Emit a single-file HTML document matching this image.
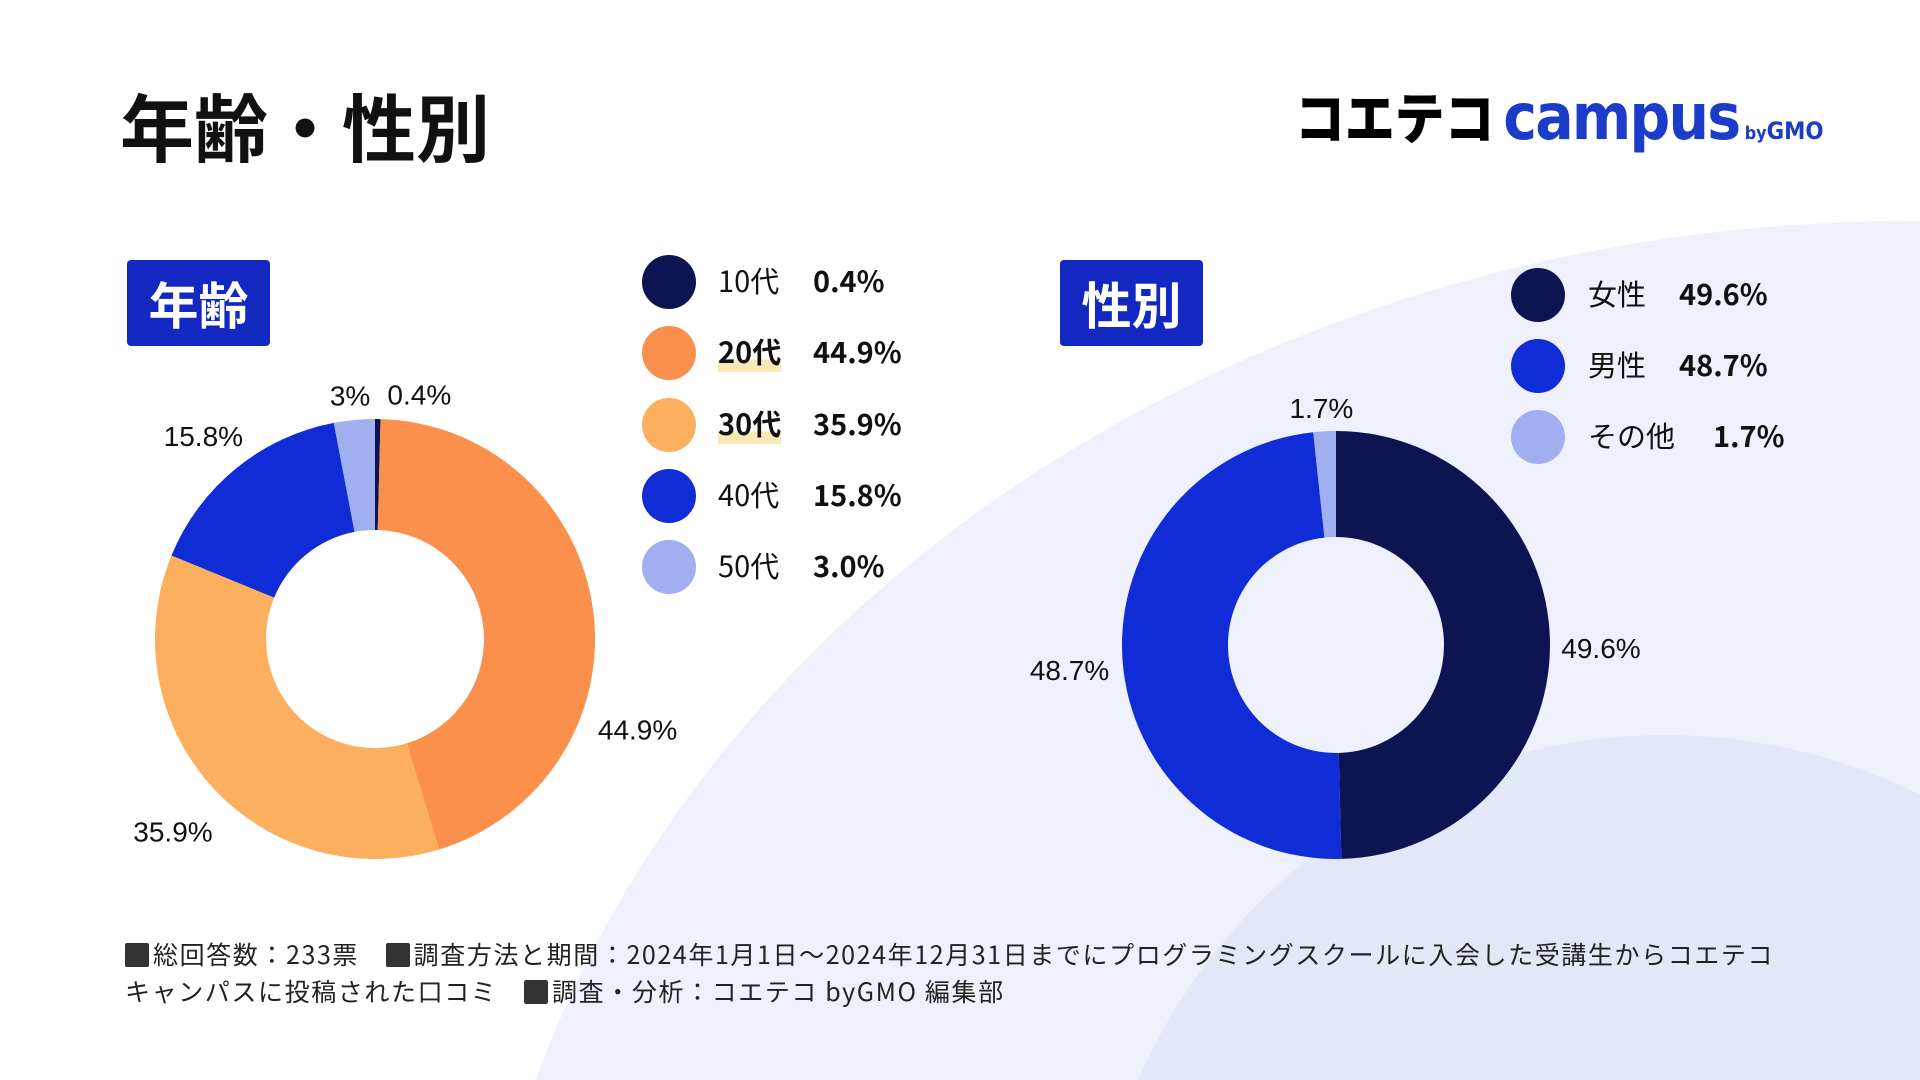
<!DOCTYPE html>
<html style="overflow:hidden;height:1080px"><head><meta charset="utf-8"><style>
*{margin:0;padding:0;box-sizing:border-box}
body{width:1920px;height:1080px;overflow:hidden;background:#fff;position:relative;font-family:"Liberation Sans","Noto Sans CJK JP",sans-serif;color:#111}
.abs{position:absolute}
.badge{background:#1228c0;color:#fff;font-weight:700;font-size:50px;display:flex;align-items:center;justify-content:center;border-radius:4px;font-family:"Noto Sans CJK JP",sans-serif}
.lg{position:absolute;font-size:29px;font-family:"Noto Sans CJK JP",sans-serif;line-height:1}
.dot{position:absolute;width:54px;height:54px;border-radius:50%}
.val{font-weight:700}
.hl{font-weight:700;background:linear-gradient(transparent 70%,#fbe9b5 70%)}
.sq{display:inline-block;width:24px;height:24px;background:#333;border-radius:2px;vertical-align:-3px;margin-right:4px}
</style></head><body>
<svg class="abs" style="left:0;top:0" width="1920" height="1080">
<ellipse cx="1910" cy="1445" rx="1440" ry="1224" fill="#eef1fb"/>
<circle cx="1665" cy="1310" r="575" fill="#e3e8f9"/>
</svg>
<div class="abs" style="left:120px;top:84px;font-size:74px;font-weight:700;font-family:'Noto Sans CJK JP',sans-serif;line-height:1.1">年齢・性別</div>
<div class="abs" style="left:1295px;top:86px;white-space:nowrap;line-height:1;transform:scaleX(0.89);transform-origin:left top">
<span style="font-size:56px;font-weight:900;font-family:'Noto Sans CJK JP',sans-serif;color:#000">コエテコ</span><span style="font-size:64px;font-weight:700;color:#1a3cc8;font-family:'DejaVu Sans',sans-serif;letter-spacing:-2px;margin-left:10px">campus</span><span style="font-size:18px;font-weight:700;color:#1a3cc8;font-family:'DejaVu Sans',sans-serif;margin-left:6px">by</span><span style="font-size:24px;font-weight:700;color:#1a3cc8;font-family:'DejaVu Sans',sans-serif">GMO</span>
</div>
<div class="abs badge" style="left:127px;top:260px;width:143px;height:86px">年齢</div>
<div class="abs badge" style="left:1060px;top:260px;width:143px;height:86px">性別</div>

<svg class="abs" id="charts" style="left:0;top:0" width="1920" height="1080"></svg>

<div id="legends"></div>

<div class="abs" style="left:125px;top:936px;font-size:25px;line-height:37px;color:#222;font-family:'Noto Sans CJK JP',sans-serif;white-space:nowrap;letter-spacing:1.6px">
<span class="sq"></span>総回答数：233票　<span class="sq"></span>調査方法と期間：2024年1月1日〜2024年12月31日までにプログラミングスクールに入会した受講生からコエテコ<br>キャンパスに投稿された口コミ　<span class="sq"></span>調査・分析：コエテコ byGMO 編集部
</div>

<script>
const ageCategories=["10代","20代","30代","40代","50代"];
const ageValues=[0.4,44.9,35.9,15.8,3.0];
const ageLabels=["0.4%","44.9%","35.9%","15.8%","3%"];
const ageLegendValues=["0.4%","44.9%","35.9%","15.8%","3.0%"];
const ageColors=["#0c1552","#fb8f4c","#fcb05f","#0f2cd6","#a1aef0"];
const genderCategories=["女性","男性","その他"];
const genderValues=[49.6,48.7,1.7];
const genderLabels=["49.6%","48.7%","1.7%"];
const genderColors=["#0c1552","#0f2cd6","#a1aef0"];

const NS="http://www.w3.org/2000/svg";
const svg=document.getElementById('charts');
function pt(cx,cy,r,a){return [cx+r*Math.sin(a),cy-r*Math.cos(a)];}
function donut(name,vals,labels,colors,cx,cy,ro,ri,labelR,offsets){
  const tot=vals.reduce((a,b)=>a+b,0);let acc=0;
  vals.forEach((v,i)=>{
    const a0=acc/tot*2*Math.PI;acc+=v;const a1=acc/tot*2*Math.PI;
    const lg=(a1-a0)>Math.PI?1:0;
    const [x0,y0]=pt(cx,cy,ro,a0),[x1,y1]=pt(cx,cy,ro,a1),[x2,y2]=pt(cx,cy,ri,a1),[x3,y3]=pt(cx,cy,ri,a0);
    const p=document.createElementNS(NS,'path');
    p.setAttribute('d',`M${x0},${y0}A${ro},${ro} 0 ${lg} 1 ${x1},${y1}L${x2},${y2}A${ri},${ri} 0 ${lg} 0 ${x3},${y3}Z`);
    p.setAttribute('fill',colors[i]);
    
    
    svg.appendChild(p);
    const am=(a0+a1)/2;let [lx,ly]=pt(cx,cy,labelR,am);
    const o=offsets[i]||[0,0];lx+=o[0];ly+=o[1];
    const t=document.createElementNS(NS,'text');
    t.setAttribute('x',lx);t.setAttribute('y',ly);
    t.setAttribute('text-anchor','middle');t.setAttribute('dominant-baseline','middle');
    t.setAttribute('font-size','28');t.setAttribute('fill','#111');
    t.setAttribute('font-family','"Liberation Sans","Noto Sans CJK JP",sans-serif');
    t.textContent=labels[i];
    
    
    svg.appendChild(t);
  });
}
donut('age',ageValues,ageLabels,ageColors,375,639,220,109,265,[[41,23],[0,129],[-6,17],[-4,5],[0,23]]);
donut('gender',genderValues,genderLabels,genderColors,1336,645,214,108,255,[[10,9],[-12,11],[-1,20]]);

const lgWrap=document.getElementById('legends');
function legend(name,cats,vals,colors,cx,cy0,dy,lx,vx,hl){
  cats.forEach((c,i)=>{
    const cy=cy0+i*dy;
    const d=document.createElement('div');d.className='dot';
    d.style.left=(cx-27)+'px';d.style.top=(cy-27)+'px';d.style.background=colors[i];
    
    
    lgWrap.appendChild(d);
    const l=document.createElement('div');l.className='lg';
    l.style.left=lx+'px';l.style.top=(cy-16)+'px';
    l.innerHTML=(hl&&hl.includes(i))?'<span class="hl">'+c+'</span>':c;
    
    
    lgWrap.appendChild(l);
    const v=document.createElement('div');v.className='lg val';
    v.style.left=(vx[i]||vx[0])+'px';v.style.top=(cy-16)+'px';v.textContent=vals[i];
    
    
    lgWrap.appendChild(v);
  });
}
legend('age',ageCategories,ageLegendValues,ageColors,669,282,71.3,718,[813],[1,2]);
legend('gender',genderCategories,genderLabels,genderColors,1538,295,71,1588,[1679,1679,1713],[]);
</script>
</body></html>
